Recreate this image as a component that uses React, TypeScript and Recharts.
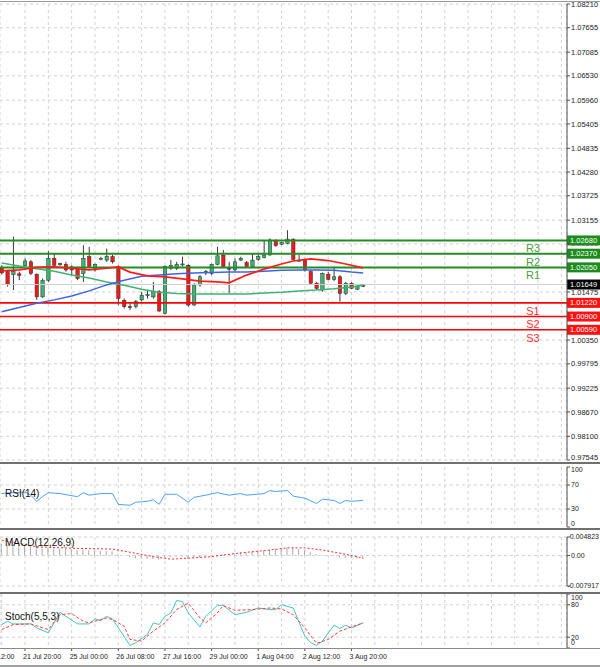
import React from 'react';
import { ComposedChart, Bar, Line, XAxis, YAxis, CartesianGrid, ReferenceLine } from 'recharts';

// 4h candles
const OPEN = [
  1.0204, 1.0195, 1.0188, 1.0190, 1.0209, 1.0218, 1.0189, 1.0136, 1.0175, 1.0226,
  1.0211, 1.0212, 1.0206, 1.0203, 1.0191, 1.0230, 1.0199, 1.0225, 1.0222, 1.0230,
  1.0207, 1.0128, 1.0113, 1.0113, 1.0129, 1.0140, 1.0136, 1.0148, 1.0097, 1.0203,
  1.0203, 1.0212, 1.0210, 1.0117, 1.0164, 1.0195, 1.0191, 1.0212, 1.0234, 1.0203,
  1.0199, 1.0222, 1.0216, 1.0207, 1.0224, 1.0228, 1.0234, 1.0267, 1.0259, 1.0261,
  1.0271, 1.0222, 1.0222, 1.0195, 1.0168, 1.0152, 1.0189, 1.0177, 1.0183, 1.0144,
  1.0168, 1.0154, 1.0162,
];
const HIGH = [
  1.0210, 1.0199, 1.0277, 1.0195, 1.0226, 1.0222, 1.0191, 1.0179, 1.0243, 1.0238,
  1.0216, 1.0218, 1.0210, 1.0207, 1.0257, 1.0253, 1.0214, 1.0230, 1.0249, 1.0234,
  1.0210, 1.0132, 1.0121, 1.0129, 1.0148, 1.0152, 1.0171, 1.0152, 1.0210, 1.0222,
  1.0218, 1.0230, 1.0212, 1.0168, 1.0187, 1.0199, 1.0214, 1.0253, 1.0246, 1.0218,
  1.0226, 1.0230, 1.0220, 1.0238, 1.0235, 1.0269, 1.0273, 1.0271, 1.0265, 1.0292,
  1.0273, 1.0234, 1.0226, 1.0199, 1.0171, 1.0193, 1.0195, 1.0207, 1.0187, 1.0171,
  1.0170, 1.0163, 1.0165,
];
const LOW = [
  1.0188, 1.0160, 1.0152, 1.0175, 1.0203, 1.0187, 1.0129, 1.0134, 1.0171, 1.0206,
  1.0209, 1.0195, 1.0187, 1.0175, 1.0171, 1.0203, 1.0195, 1.0222, 1.0218, 1.0214,
  1.0117, 1.0109, 1.0105, 1.0109, 1.0125, 1.0132, 1.0132, 1.0101, 1.0095, 1.0199,
  1.0199, 1.0207, 1.0113, 1.0115, 1.0160, 1.0187, 1.0187, 1.0210, 1.0204, 1.0144,
  1.0196, 1.0220, 1.0204, 1.0204, 1.0220, 1.0226, 1.0232, 1.0253, 1.0257, 1.0259,
  1.0222, 1.0218, 1.0195, 1.0165, 1.0152, 1.0148, 1.0175, 1.0173, 1.0125, 1.0140,
  1.0154, 1.0152, 1.0159,
];
const CLOSE = [
  1.0192, 1.0165, 1.0195, 1.0186, 1.0220, 1.0191, 1.0136, 1.0175, 1.0226, 1.0210,
  1.0214, 1.0199, 1.0199, 1.0179, 1.0226, 1.0207, 1.0212, 1.0226, 1.0230, 1.0218,
  1.0132, 1.0113, 1.0111, 1.0125, 1.0140, 1.0141, 1.0148, 1.0103, 1.0207, 1.0210,
  1.0212, 1.0213, 1.0117, 1.0164, 1.0183, 1.0196, 1.0212, 1.0232, 1.0207, 1.0201,
  1.0218, 1.0226, 1.0207, 1.0222, 1.0230, 1.0234, 1.0269, 1.0256, 1.0263, 1.0271,
  1.0224, 1.0221, 1.0199, 1.0168, 1.0156, 1.0191, 1.0177, 1.0183, 1.0144, 1.0168,
  1.0156, 1.0161, 1.0163,
];

// moving averages, [bar, value]
const MA_RED: [number, number][] = [
  [0, 1.0197], [3, 1.0199], [6, 1.0205], [9, 1.0206], [12, 1.0203], [15, 1.0199],
  [18, 1.0203], [20, 1.0206], [22, 1.0194], [25, 1.0185], [28, 1.0183], [31, 1.0178],
  [34, 1.0173], [37, 1.0171], [39, 1.0169], [42, 1.0187], [45, 1.0201], [48, 1.0213],
  [50, 1.0220], [53, 1.0225], [56, 1.0221], [59, 1.0213], [62, 1.0204],
];
const MA_BLUE: [number, number][] = [
  [0, 1.0101], [3, 1.0111], [6, 1.0121], [9, 1.0129], [12, 1.0138], [15, 1.0150],
  [18, 1.0164], [21, 1.0175], [24, 1.0184], [27, 1.0187], [30, 1.0190], [33, 1.0192],
  [36, 1.0193], [39, 1.0194], [42, 1.0194], [45, 1.0196], [48, 1.0198], [51, 1.0199],
  [54, 1.0199], [57, 1.0198], [60, 1.0194], [62, 1.0192],
];
const MA_GREEN: [number, number][] = [
  [0, 1.0215], [3, 1.0208], [6, 1.0202], [9, 1.0196], [12, 1.0187], [15, 1.0180],
  [18, 1.0171], [21, 1.0163], [24, 1.0154], [27, 1.0147], [30, 1.0144], [33, 1.0143],
  [36, 1.0143], [39, 1.0143], [42, 1.0143], [45, 1.0145], [48, 1.0147], [51, 1.0150],
  [54, 1.0152], [57, 1.0155], [60, 1.0159], [62, 1.0164],
];

const RSI: [number, number][] = [
  [0, 55.7], [1, 56.6], [4, 58.2], [5, 53], [6, 42.8], [7, 50.5], [8, 57.2], [10, 55.7],
  [13, 50.5], [14, 57.2], [15, 53], [17, 55.7], [19, 55.7], [20, 37.7], [22, 36.2],
  [23, 41.3], [25, 42.8], [26, 45.4], [27, 37.7], [28, 54.6], [30, 54.6], [32, 41.3],
  [33, 49.5], [35, 53], [37, 57.2], [39, 53], [41, 55.7], [42, 53], [45, 55.7], [46, 60.8],
  [47, 59.2], [49, 60.8], [50, 51.5], [52, 48], [54, 39.2], [55, 46.4], [57, 44.3],
  [58, 39.2], [59, 44.3], [60, 42.8], [62, 44.3],
];

const MACD_MAIN = [
  0.0030, 0.0029, 0.0028, 0.0027, 0.0026, 0.0024, 0.0021, 0.0019, 0.0020, 0.0019,
  0.0018, 0.0017, 0.0016, 0.0014, 0.0015, 0.0014, 0.0012, 0.0012, 0.0012, 0.0011,
  0.0004, 0.0000, -0.0004, -0.0007, -0.0008, -0.0009, -0.0009, -0.0011, -0.0005, -0.0004,
  -0.0003, -0.0003, -0.0008, -0.0007, -0.0005, -0.0003, -0.0001, 0.0002, 0.0003, 0.0003,
  0.0005, 0.0007, 0.0008, 0.0010, 0.0011, 0.0013, 0.0016, 0.0017, 0.0018, 0.0021,
  0.0019, 0.0017, 0.0014, 0.0010, 0.0004, 0.0002, -0.0001, -0.0002, -0.0006, -0.0006,
  -0.0007, -0.0007, -0.0008,
];
const MACD_SIGNAL: [number, number][] = [
  [0, 0.0040], [6, 0.00227], [13, 0.00186], [19, 0.00168], [23, 0.00059], [26, -0.00028],
  [29, -0.00094], [32, -0.00069], [36, -0.00028], [39, 0.00033], [42, 0.00084],
  [46, 0.00143], [49, 0.0020], [52, 0.0020], [55, 0.00143], [59, 0.00033], [62, -0.00069],
];

const STOCH_K: [number, number][] = [
  [0, 43.4], [1, 49.5], [2, 44.6], [4, 44.6], [5, 44.6], [6, 37.3], [8, 28.1], [10, 66.1],
  [13, 44.6], [15, 44.6], [16, 53.9], [17, 50.8], [18, 58.7], [19, 53.9], [22, 4.8],
  [23, 9.7], [25, 25.1], [26, 46.5], [27, 43.4], [28, 58.7], [29, 64.9], [30, 87.9],
  [31, 86.1], [32, 64.9], [34, 39.1], [35, 58.7], [37, 79], [38, 79], [40, 61.8],
  [42, 66.1], [44, 74.1], [46, 71.1], [47, 71.1], [48, 80.2], [50, 74.1], [52, 22],
  [53, 9.7], [54, 4.8], [55, 12.8], [57, 42.2], [58, 36.1], [59, 42.2], [60, 37.3], [62, 46.5],
];
const STOCH_D: [number, number][] = [
  [0, 34.2], [2, 43.4], [5, 44.6], [7, 37.3], [8, 34.2], [10, 61.8], [12, 63.7], [14, 49.5],
  [15, 46.5], [18, 55.7], [19, 52.7], [21, 40.4], [22, 15.9], [24, 12.8], [26, 31.2],
  [28, 46.5], [30, 71.1], [32, 83], [34, 55.7], [35, 46.5], [37, 64.9], [38, 78.4],
  [40, 69.8], [43, 71.1], [46, 74.1], [48, 72.3], [50, 61.8], [52, 37.3], [54, 8.5],
  [56, 15.9], [58, 31.2], [60, 39.1], [62, 46.5],
];

const PRICE_TICKS = [
  0.97545, 0.981, 0.9867, 0.99225, 0.99795, 1.0035, 1.01475, 1.026, 1.03155, 1.03725,
  1.0428, 1.04835, 1.05405, 1.0596, 1.0653, 1.07085, 1.07655, 1.0821,
];
const LEVELS = [
  { name: 'R3', value: 1.0268, kind: 'r' },
  { name: 'R2', value: 1.0237, kind: 'r' },
  { name: 'R1', value: 1.0205, kind: 'r' },
  { name: 'S1', value: 1.0122, kind: 's' },
  { name: 'S2', value: 1.009, kind: 's' },
  { name: 'S3', value: 1.0059, kind: 's' },
];
const CURRENT_PRICE = 1.01649;

const TIME_BARS = [-4, 4, 12, 20, 28, 36, 44, 52, 60];
const TIME_LABELS = [
  '20 Jul 12:00', '21 Jul 20:00', '25 Jul 00:00', '26 Jul 08:00', '27 Jul 16:00',
  '29 Jul 00:00', '1 Aug 04:00', '2 Aug 12:00', '3 Aug 20:00',
];

const X_DOMAIN = [-0.29, 96.96];
const PRICE_DOMAIN = [0.97545, 1.0821];
const MAIN_PLOT_H = 456;
const GRID_BARS = Array.from({ length: 25 }, (_, k) => k * 4);
const FONT = '"Liberation Sans", Arial, sans-serif';
const GRID = '#d2d2d2';
const AXIS = '#505050';
const TAG_VALUES = [CURRENT_PRICE, ...LEVELS.map((l) => l.value)];

const pick = (pairs: [number, number][], i: number) => {
  const p = pairs.find((q) => q[0] === i);
  return p ? p[1] : null;
};

const rows = OPEN.map((o, i) => ({
  i,
  o,
  h: HIGH[i],
  l: LOW[i],
  c: CLOSE[i],
  range: [LOW[i], HIGH[i]],
  maRed: pick(MA_RED, i),
  maBlue: pick(MA_BLUE, i),
  maGreen: pick(MA_GREEN, i),
  rsi: pick(RSI, i),
  macd: MACD_MAIN[i],
  signal: pick(MACD_SIGNAL, i),
  k: pick(STOCH_K, i),
  d: pick(STOCH_D, i),
}));

const Candle = (props: any) => {
  const { x, y, width, height, payload } = props;
  if (x == null || y == null) return null;
  const { o, h, l, c } = payload;
  const cx = x + width / 2;
  const k = h - l > 0 ? height / (h - l) : 0;
  const yo = y + (h - o) * k;
  const yc = y + (h - c) * k;
  const up = c >= o;
  const top = Math.min(yo, yc);
  const bh = Math.max(Math.abs(yo - yc), 1);
  return (
    <g>
      <line x1={cx} x2={cx} y1={y} y2={y + height} stroke="#3a3a3a" strokeWidth={1} />
      <rect
        x={cx - 1.7}
        y={top}
        width={3.4}
        height={bh}
        fill={up ? '#3cb371' : '#f01818'}
        stroke="#2a2a2a"
        strokeWidth={0.5}
      />
    </g>
  );
};

// price labels; a label sitting right under a level tag only peeks out below it
const PriceTick = (props: any) => {
  const { x, y, payload } = props;
  const v = payload.value;
  const pxPerUnit = MAIN_PLOT_H / (PRICE_DOMAIN[1] - PRICE_DOMAIN[0]);
  const near = TAG_VALUES.find((t) => Math.abs((t - v) * pxPerUnit) < 5);
  const yy = Math.min(y, 457);
  const id = `clip-${v}`;
  let clip = null;
  if (near != null) {
    const tagY = y - (near - v) * pxPerUnit;
    clip = (
      <clipPath id={id}>
        {near > v ? (
          <rect x={x - 2} y={tagY + 5} width={40} height={20} />
        ) : (
          <rect x={x - 2} y={tagY - 25} width={40} height={20} />
        )}
      </clipPath>
    );
  }
  return (
    <g>
      {clip && <defs>{clip}</defs>}
      <text
        x={x}
        y={yy}
        dy="0.35em"
        fontSize={7.5}
        fontFamily={FONT}
        fill="#222"
        clipPath={clip ? `url(#${id})` : undefined}
      >
        {v.toFixed(5)}
      </text>
    </g>
  );
};

const SideTick = (props: any) => {
  const { x, y, payload, minY, maxY, fmt } = props;
  const label = fmt ? fmt(payload.value) : String(payload.value);
  let yy = y;
  if (minY != null) yy = Math.max(yy, minY);
  if (maxY != null) yy = Math.min(yy, maxY);
  const long = label.length > 7;
  return (
    <text
      x={long ? 599 : x}
      y={yy}
      dy="0.35em"
      fontSize={7}
      fontFamily={FONT}
      fill="#222"
      textAnchor={long ? 'end' : 'start'}
    >
      {label}
    </text>
  );
};

const LevelLabel = (props: any) => {
  const { viewBox, name, value, kind } = props;
  if (!viewBox) return null;
  const right = viewBox.x + viewBox.width;
  const y = viewBox.y;
  const bg = kind === 'r' ? '#1c8c1c' : kind === 's' ? '#ff1010' : '#000';
  const txt = kind === 'r' ? '#4a9e3a' : '#ff3030';
  return (
    <g>
      {name && (
        <text x={533} y={y + 8} dy="0.35em" textAnchor="middle" fontSize={11} fontFamily={FONT} fill={txt}>
          {name}
        </text>
      )}
      <rect x={right} y={y - 5} width={33} height={10} fill={bg} />
      <text x={right + 3} y={y} dy="0.35em" fontSize={7.5} fontFamily={FONT} fill="#fff">
        {value.toFixed(5)}
      </text>
    </g>
  );
};

const TimeTick = (props: any) => {
  const { x, y, payload } = props;
  const idx = TIME_BARS.indexOf(payload.value);
  if (idx < 0) return null;
  return (
    <g>
      <line x1={x} x2={x} y1={y} y2={y + 3} stroke={AXIS} />
      <text x={x - 2} y={y + 11} fontSize={7} fontFamily={FONT} fill="#222">
        {TIME_LABELS[idx]}
      </text>
    </g>
  );
};

const Sep = ({ top, h = 2, color = '#707070' }: { top: number; h?: number; color?: string }) => (
  <div style={{ position: 'absolute', left: 0, top, width: 600, height: h, background: color }} />
);

const PanelTitle = ({ top, text }: { top: number; text: string }) => (
  <div
    style={{
      position: 'absolute',
      left: 5,
      top: top - 6,
      fontSize: 10,
      lineHeight: '12px',
      fontFamily: FONT,
      color: '#111',
    }}
  >
    {text}
  </div>
);

const xAxisHidden = (
  <XAxis dataKey="i" type="number" domain={X_DOMAIN} ticks={GRID_BARS} allowDataOverflow hide />
);

const fmtMacd = (v: number) => (v === 0 ? '0.00' : v.toFixed(6));

export default function App() {
  return (
    <div
      style={{
        position: 'absolute',
        left: 0,
        top: 0,
        width: 600,
        height: 667,
        background: '#fff',
        overflow: 'hidden',
      }}
    >
      <div style={{ position: 'absolute', left: 0, top: 0 }}>
        <ComposedChart width={600} height={462} data={rows} margin={{ top: 4, right: 0, bottom: 2, left: 0 }}>
          <CartesianGrid stroke={GRID} strokeDasharray="3 3" />
          {xAxisHidden}
          <YAxis
            orientation="right"
            width={33}
            domain={PRICE_DOMAIN}
            ticks={PRICE_TICKS}
            allowDataOverflow
            interval={0}
            tickSize={3}
            tickMargin={1}
            tick={<PriceTick />}
            tickLine={{ stroke: AXIS }}
            axisLine={{ stroke: AXIS }}
          />
          <ReferenceLine
            y={CURRENT_PRICE}
            stroke="#cfcfcf"
            strokeWidth={1}
            label={<LevelLabel value={CURRENT_PRICE} kind="c" />}
          />
          {LEVELS.map((lv) => (
            <ReferenceLine
              key={lv.name}
              y={lv.value}
              stroke={lv.kind === 'r' ? '#238c23' : '#ff0000'}
              strokeWidth={lv.kind === 'r' ? 2 : 1.6}
              label={<LevelLabel name={lv.name} value={lv.value} kind={lv.kind} />}
            />
          ))}
          <Line dataKey="maGreen" stroke="#3cb371" strokeWidth={1.5} dot={false} connectNulls isAnimationActive={false} />
          <Line dataKey="maBlue" stroke="#3f62e8" strokeWidth={1.5} dot={false} connectNulls isAnimationActive={false} />
          <Line dataKey="maRed" stroke="#ff1a1a" strokeWidth={1.7} dot={false} connectNulls isAnimationActive={false} />
          <Bar dataKey="range" barSize={4} shape={<Candle />} isAnimationActive={false} />
        </ComposedChart>
      </div>

      <div style={{ position: 'absolute', left: 0, top: 465 }}>
        <ComposedChart width={600} height={64} data={rows} margin={{ top: 2, right: 0, bottom: 2, left: 0 }}>
          <CartesianGrid stroke={GRID} strokeDasharray="3 3" horizontal={false} />
          {xAxisHidden}
          <YAxis
            orientation="right"
            width={33}
            domain={[0, 100]}
            ticks={[0, 30, 70, 100]}
            allowDataOverflow
            interval={0}
            tickSize={3}
            tickMargin={1}
            tick={<SideTick minY={5} maxY={59} />}
            tickLine={{ stroke: AXIS }}
            axisLine={{ stroke: AXIS }}
          />
          <ReferenceLine y={70} stroke={GRID} strokeDasharray="3 3" />
          <ReferenceLine y={30} stroke={GRID} strokeDasharray="3 3" />
          <Line dataKey="rsi" stroke="#4aa3ff" strokeWidth={1} dot={false} connectNulls isAnimationActive={false} />
        </ComposedChart>
      </div>

      <div style={{ position: 'absolute', left: 0, top: 531 }}>
        <ComposedChart width={600} height={62} data={rows} margin={{ top: 6, right: 0, bottom: 7, left: 0 }}>
          <CartesianGrid stroke={GRID} strokeDasharray="3 3" horizontal={false} />
          {xAxisHidden}
          <YAxis
            orientation="right"
            width={33}
            domain={[-0.007917, 0.004823]}
            ticks={[-0.007917, 0, 0.004823]}
            allowDataOverflow
            interval={0}
            tickSize={3}
            tickMargin={1}
            tick={<SideTick fmt={fmtMacd} />}
            tickLine={{ stroke: AXIS }}
            axisLine={{ stroke: AXIS }}
          />
          <ReferenceLine y={0.004823} stroke={GRID} strokeDasharray="3 3" />
          <ReferenceLine y={0} stroke={GRID} strokeDasharray="3 3" />
          <ReferenceLine y={-0.007917} stroke={GRID} strokeDasharray="3 3" />
          <Bar dataKey="macd" barSize={1} fill="#a9a9a9" isAnimationActive={false} />
          <Line
            dataKey="signal"
            stroke="#ff2a2a"
            strokeWidth={1}
            strokeDasharray="2 2"
            dot={false}
            connectNulls
            isAnimationActive={false}
          />
        </ComposedChart>
      </div>

      <div style={{ position: 'absolute', left: 0, top: 594 }}>
        <ComposedChart width={600} height={70} data={rows} margin={{ top: 0, right: 0, bottom: 0, left: 0 }}>
          <CartesianGrid stroke={GRID} strokeDasharray="3 3" horizontal={false} />
          <XAxis
            dataKey="i"
            type="number"
            domain={X_DOMAIN}
            ticks={[-4, ...GRID_BARS]}
            allowDataOverflow
            interval={0}
            height={16}
            tickSize={0}
            tickMargin={0}
            axisLine={false}
            tickLine={false}
            tick={<TimeTick />}
          />
          <YAxis
            orientation="right"
            width={33}
            domain={[0, 100]}
            ticks={[0, 20, 80, 100]}
            allowDataOverflow
            interval={0}
            tickSize={3}
            tickMargin={1}
            tick={<SideTick minY={4} maxY={49} />}
            tickLine={{ stroke: AXIS }}
            axisLine={{ stroke: AXIS }}
          />
          <ReferenceLine y={80} stroke={GRID} strokeDasharray="3 3" />
          <ReferenceLine y={20} stroke={GRID} strokeDasharray="3 3" />
          <Line dataKey="k" stroke="#45c4bc" strokeWidth={1} dot={false} connectNulls isAnimationActive={false} />
          <Line
            dataKey="d"
            stroke="#ff3a3a"
            strokeWidth={1}
            strokeDasharray="3 2"
            dot={false}
            connectNulls
            isAnimationActive={false}
          />
        </ComposedChart>
      </div>

      <Sep top={1} h={1} color="#9a9a9a" />
      <Sep top={462} h={2} />
      <Sep top={528} h={2} />
      <Sep top={592} h={2} />
      <Sep top={648} h={1} color="#8a8a8a" />
      <Sep top={665} h={2} color="#a0a0a0" />

      <PanelTitle top={494} text="RSI(14)" />
      <PanelTitle top={543} text="MACD(12,26,9)" />
      <PanelTitle top={617} text="Stoch(5,5,3)" />
    </div>
  );
}
